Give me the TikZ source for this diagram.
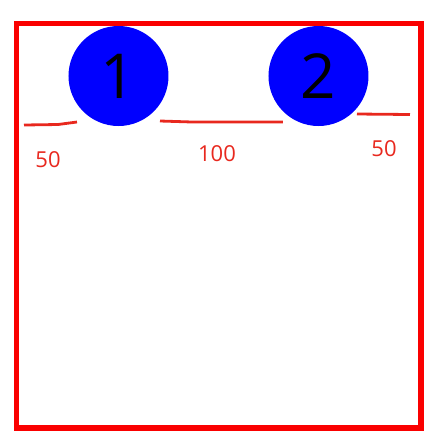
\documentclass[tikz,border=0pt]{standalone}
\usepackage{fontspec}
\setmainfont{Open Sans}
\definecolor{boxred}{RGB}{250,0,0}
\definecolor{linered}{RGB}{232,40,30}
\begin{document}
\begin{tikzpicture}[x=0.5pt, y=-0.5pt,
  ball/.style={circle, fill=blue, minimum size=50pt, inner sep=0pt, font=\fontsize{31}{31}\selectfont},
  gap/.style={linered, line width=1.4pt},
  len/.style={text=linered, font=\fontsize{11}{11}\selectfont}
]
  \useasboundingbox (0,0) rectangle (439,447);
  % Frame
  \draw[boxred, line width=2.6pt] (16.5,23.5) rectangle (421,428);

  % Balls
  \node[ball] (c1) at (118.5,76) {1};
  \node[ball] (c2) at (318.5,76) {2};

  % Gaps
  \draw[gap] (24,125) -- (58,124.5) -- (77,122);
  \draw[gap] (160,121) -- (192,122) -- (283,122);
  \draw[gap] (357,114) -- (410,114.5);

  % Lengths
  \node[len] (l1) at (48,160) {50};
  \node[len] (l2) at (217,154) {100};
  \node[len] (l3) at (384,149) {50};
\end{tikzpicture}
\end{document}
